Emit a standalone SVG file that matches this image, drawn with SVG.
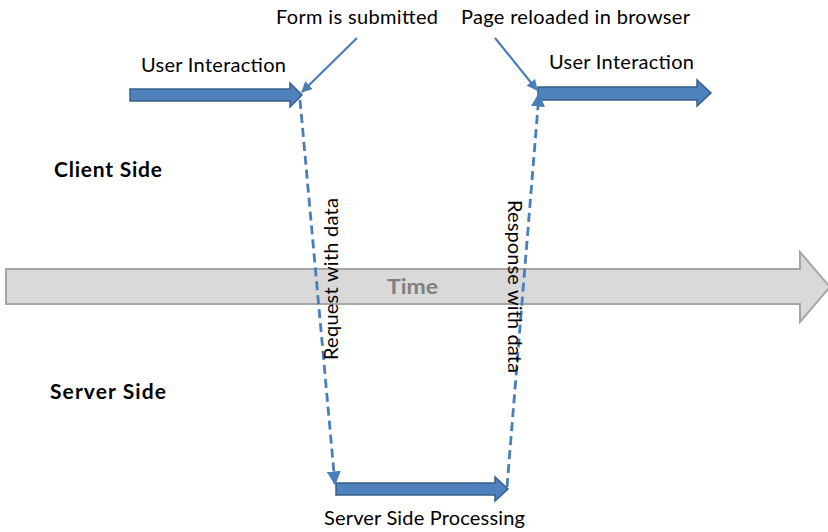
<svg xmlns="http://www.w3.org/2000/svg" width="828" height="532" viewBox="0 0 828 532">
<defs>
<style>
.lbl{font-family:Lato,"Liberation Sans",sans-serif;font-size:20px;fill:#000}
.bold{font-family:Lato,"Liberation Sans",sans-serif;font-size:21px;font-weight:bold;fill:#000}
.blk{fill:#4f81bd;stroke:#385d8a;stroke-width:1.5}
.dash{fill:none;stroke:#4a7ebb;stroke-width:2.8;stroke-dasharray:9,5}
.call{fill:none;stroke:#4a7ebb;stroke-width:2.2}
</style>
<marker id="ah" viewBox="0 0 10 10" refX="9" refY="5" markerWidth="5" markerHeight="5" orient="auto" markerUnits="strokeWidth">
<path d="M0,0 L10,5 L0,10 z" fill="#4a7ebb"/>
</marker>
</defs>
<rect width="828" height="532" fill="#fff"/>
<g id="time-arrow">
<path d="M6,269 L800,269 L800,252 L830,287 L800,322 L800,304 L6,304 z" fill="#d9d9d9" stroke="#a6a6a6" stroke-width="2"/>
<text x="387" y="294" textLength="51" lengthAdjust="spacingAndGlyphs" style="font-family:Lato,'Liberation Sans',sans-serif;font-size:20px;font-weight:bold;fill:#7f7f7f">Time</text>
</g>
<g id="user-interaction-1">
<path class="blk" d="M130,89 L290,89 L290,83 L302,95 L290,107 L290,101 L130,101 z"/>
<text class="lbl" x="141" y="72" textLength="145">User Interaction</text>
</g>
<g id="user-interaction-2">
<path class="blk" d="M538,87 L697,87 L697,80 L711,93 L697,106 L697,100 L538,100 z"/>
<text class="lbl" x="549" y="69" textLength="145">User Interaction</text>
</g>
<g id="server-processing">
<path class="blk" d="M336,483 L495,483 L495,477 L508,489 L495,501 L495,495 L336,495 z"/>
<text class="lbl" x="324" y="525" textLength="201">Server Side Processing</text>
</g>
<g id="client-side"><text class="bold" x="54" y="177" textLength="108">Client Side</text></g>
<g id="server-side"><text class="bold" x="50" y="399" textLength="116">Server Side</text></g>
<g id="form-submitted"><text class="lbl" x="276" y="24" textLength="162">Form is submitted</text></g>
<g id="page-reloaded"><text class="lbl" x="461" y="24" textLength="229">Page reloaded in browser</text></g>
<g id="connectors">
<line class="call" x1="357" y1="38" x2="302" y2="92" marker-end="url(#ah)"/>
<line class="call" x1="495" y1="38" x2="537" y2="90" marker-end="url(#ah)"/>
<line class="dash" x1="300" y1="100" x2="335" y2="484" marker-end="url(#ah)"/>
<line class="dash" x1="507" y1="487" x2="539" y2="94" marker-end="url(#ah)"/>
<text class="lbl" transform="translate(338,360) rotate(-90)" textLength="162">Request with data</text>
<text class="lbl" transform="translate(508,200) rotate(90)" textLength="173">Response with data</text>
</g>
</svg>
